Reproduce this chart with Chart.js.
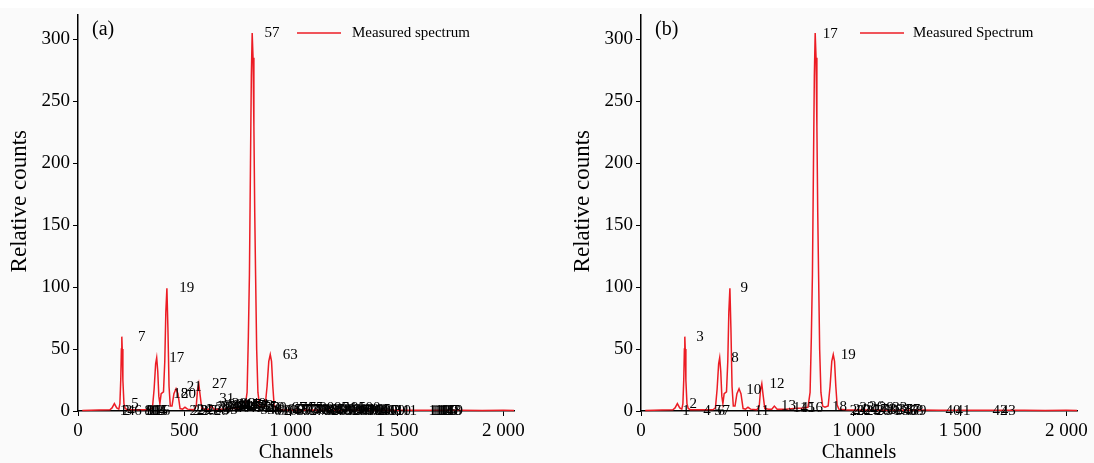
<!DOCTYPE html>
<html>
<head>
<meta charset="utf-8">
<script src="https://cdn.jsdelivr.net/npm/chart.js@4.4.1/dist/chart.umd.min.js"></script>
<style>
    body { margin: 0; background: #fff; }
    .wrap { position: relative; width: 1094px; height: 463px; }
    .bg { position: absolute; left: 0; top: 8px; width: 1094px; height: 455px; background: #fafafa; }
    canvas { position: absolute; top: 0; }
    #chartA { left: 0; }
    #chartB { left: 563px; }
</style>
</head>
<body>
<div class="wrap">
    <div class="bg"></div>
    <canvas id="chartA" width="563" height="463"></canvas>
    <canvas id="chartB" width="531" height="463"></canvas>
</div>
<script>
// Measured spectrum (same in both panels)
const channels = [20, 100, 150, 160, 171, 182, 192, 197, 201, 204, 206, 208, 211, 216, 222, 232, 260, 300, 340, 350, 358, 365, 370, 375, 380, 385, 391, 402, 408, 413, 418, 423, 428, 434, 442, 451, 461, 470, 480, 492, 503, 515, 545, 556, 562, 568, 574, 582, 600, 615, 627, 640, 680, 720, 760, 785, 795, 801, 806, 811, 815, 819, 823, 827, 831, 835, 840, 846, 854, 865, 880, 889, 897, 904, 910, 916, 922, 930, 960, 1000, 1100, 1200, 1300, 1400, 1500, 1600, 1700, 1800, 1900, 2000, 2050]
const counts = [0.5, 0.8, 1, 2.5, 6, 2.5, 1.5, 6, 25, 50, 60, 50, 25, 6, 2, 1, 1, 1, 1.2, 2.5, 18, 38, 43, 32, 12, 6, 14, 15.5, 40, 80, 99, 65, 20, 4, 4, 14, 18, 14, 2, 1.5, 3, 1.5, 1, 4, 17, 22, 13, 2, 1.5, 1.5, 4, 1.5, 1.5, 2, 2.5, 3, 15, 60, 110, 200, 270, 305, 285, 230, 160, 110, 50, 15, 4, 3, 4, 20, 40, 45.5, 40, 20, 5, 1.5, 1, 0.8, 0.8, 0.7, 0.8, 0.7, 0.6, 0.7, 0.6, 0.6, 0.5, 0.6, 0.5]

const xTickValues = [0, 500, 1000, 1500, 2000]
const yTickValues = [0, 50, 100, 150, 200, 250, 300]

// Panel (a) peak labels: number, channel, counts
const labelsA = ['1', '2', '3', '4', '5', '6', '7', '8', '9', '10', '11', '12', '13', '14', '15', '16', '17', '18', '19', '20', '21', '22', '23', '24', '25', '26', '27',
    '28', '29', '30', '31', '32', '33', '34', '35', '36', '37', '38', '39', '40', '41', '42', '43', '44', '45', '46', '47', '48', '49', '50', '51', '52', '53', '54', '55', '56',
    '57', '58', '59', '60', '61', '62', '63',
    '64', '65', '66', '67', '68', '69', '70', '71', '72', '73', '74', '75', '76', '77', '78', '79', '80', '81', '82', '83', '84',
    '85', '86', '87', '88', '89', '90', '91', '92', '93', '94', '95', '96', '97', '98', '99', '100', '101', '102', '103', '104', '105',
    '106', '107', '108', '109', '110', '111',
    '112', '113', '114', '115', '116', '117', '118', '119']
const peakChA = [120, 132, 143, 155, 174, 188, 206, 236, 246, 254, 262, 270, 278, 286, 294, 304, 370, 389, 417, 425, 452, 466, 480, 500, 520, 545, 571,
    580, 588, 597, 605, 614, 622, 630, 639, 647, 656, 664, 672, 681, 689, 698, 706, 714, 723, 731, 740, 748, 756, 765, 773, 782, 790, 798, 807, 815,
    818, 830, 842, 852, 862, 876, 904,
    915, 925, 935, 945, 955, 965, 975, 985, 995, 1005, 1015, 1025, 1035, 1045, 1055, 1065, 1075, 1085, 1095, 1105, 1115,
    1125, 1135, 1145, 1155, 1165, 1175, 1185, 1195, 1205, 1215, 1225, 1235, 1245, 1255, 1265, 1275, 1285, 1295, 1305, 1315, 1325,
    1345, 1360, 1375, 1390, 1420, 1450,
    1605, 1613, 1622, 1631, 1640, 1649, 1657, 1665]
const peakValA = [0, 0, 0, 0, 6, 0, 60, 0, 0, 0, 0, 0, 0, 0, 0, 0, 43, 14, 99, 14, 19, 0, 0, 1, 0, 1, 22,
    0, 2, 3, 10, 3, 1, 4, 2, 5, 3, 6, 4, 2, 5, 3, 6, 4, 5, 3, 2, 4, 6, 3, 5, 2, 4, 1, 3, 2,
    305, 1, 2, 2, 0, 0, 45,
    0, 1, 0, 2, 1, 0, 1, 2, 0, 1, 0, 2, 1, 0, 1, 0, 2, 1, 0, 1, 0,
    1, 0, 2, 1, 0, 1, 2, 0, 1, 0, 2, 1, 0, 1, 0, 2, 1, 0, 1, 0, 1,
    0, 0, 0, 0, 0, 0,
    0, 0, 0, 0, 0, 0, 0, 0]

// Panel (b) peak labels
const labelsB = ['1', '2', '3', '4', '5', '6', '7', '8', '9', '10', '11', '12', '13', '14', '15', '16', '17', '18', '19',
    '20', '21', '22', '23', '24', '25', '26', '27', '28', '29', '30', '31', '32', '33', '34', '35', '36', '37', '38', '39',
    '40', '41', '42', '43']
const peakChB = [141, 175, 207, 240, 292, 307, 330, 372, 415, 460, 498, 569, 623, 679, 712, 750, 819, 863, 904,
    946, 961, 977, 992, 1008, 1023, 1038, 1054, 1069, 1084, 1100, 1115, 1130, 1146, 1161, 1176, 1192, 1207, 1222, 1237,
    1396, 1443, 1618, 1656]
const peakValB = [0, 6, 60, 0, 0, 0, 0, 43, 99, 17, 0, 22, 4, 2, 2, 2, 304, 3, 45,
    0, 1, 0, 2, 1, 0, 3, 1, 0, 2, 1, 0, 1, 2, 0, 1, 0, 1, 0, 0,
    0, 0, 0, 0]

const serif = '"Liberation Serif", "Times New Roman", serif'
const red = '#ec1c24'

function spaced(v) {
    return String(v).replace(/\B(?=(\d{3})+(?!\d))/g, ' ')
}

// Peak numbers, legend and panel tag
const peakLabels = {
    id: 'peakLabels',
    afterDatasetsDraw(chart, args, opts) {
        const ctx = chart.ctx
        const x = chart.scales.x
        const y = chart.scales.y
        ctx.save()
        ctx.fillStyle = '#000'
        ctx.textAlign = 'center'
        ctx.textBaseline = 'middle'
        ctx.font = '15px ' + serif
        opts.labels.forEach(function (lab, i) {
            ctx.fillText(lab, x.getPixelForValue(opts.channels[i]) + opts.offset, y.getPixelForValue(opts.values[i]))
        })

        // legend
        ctx.strokeStyle = red
        ctx.lineWidth = 1.5
        ctx.beginPath()
        ctx.moveTo(297, 33)
        ctx.lineTo(341, 33)
        ctx.stroke()
        ctx.textAlign = 'left'
        ctx.fillText(opts.legend, opts.legendX, 33)

        // tag
        ctx.font = '20px ' + serif
        ctx.fillText(opts.tag, 92, 30)
        ctx.restore()
    }
}

function makeChart(id, labels, chs, vals, tag, legend, legendX, offset, rightPad) {
    const points = channels.map(function (c, i) { return { x: c, y: counts[i] } })
    return new Chart(document.getElementById(id), {
        type: 'line',
        data: {
            datasets: [{
                label: legend,
                data: points,
                borderColor: red,
                borderWidth: 1.5,
                pointRadius: 0,
                tension: 0,
                clip: false
            }]
        },
        options: {
            responsive: false,
            animation: false,
            layout: { padding: { top: 10, right: rightPad, left: 0, bottom: 0 } },
            plugins: {
                legend: { display: false },
                tooltip: { enabled: false },
                peakLabels: { labels: labels, channels: chs, values: vals, tag: tag, legend: legend, legendX: legendX, offset: offset }
            },
            scales: {
                x: {
                    type: 'linear',
                    min: 0,
                    max: 2050,
                    afterFit: function (s) { s.height = 52 },
                    afterBuildTicks: function (s) { s.ticks = xTickValues.map(function (v) { return { value: v } }) },
                    border: { display: true, color: '#000', width: 1.5 },
                    grid: { display: true, drawOnChartArea: false, tickLength: 5, color: '#000', tickWidth: 1 },
                    ticks: {
                        maxRotation: 0,
                        autoSkip: false,
                        padding: 4,
                        color: '#000',
                        font: { family: serif, size: 19 },
                        callback: function (v) { return spaced(v) }
                    },
                    title: {
                        display: true,
                        text: 'Channels',
                        color: '#000',
                        font: { family: serif, size: 20, lineHeight: 1 },
                        padding: 0
                    }
                },
                y: {
                    min: 0,
                    max: 320,
                    afterFit: function (s) { s.width = 78 },
                    afterBuildTicks: function (s) { s.ticks = yTickValues.map(function (v) { return { value: v } }) },
                    border: { display: true, color: '#000', width: 1.5 },
                    grid: { display: true, drawOnChartArea: false, tickLength: 5, color: '#000', tickWidth: 1 },
                    ticks: {
                        autoSkip: false,
                        padding: 3,
                        color: '#000',
                        font: { family: serif, size: 19 }
                    },
                    title: {
                        display: true,
                        // leading spaces lift the rotated title a little
                        text: '    Relative counts',
                        color: '#000',
                        font: { family: serif, size: 23, lineHeight: 1 },
                        padding: { top: 8, bottom: 0 }
                    }
                }
            }
        },
        plugins: [peakLabels]
    })
}

makeChart('chartA', labelsA, peakChA, peakValA, '(a)', 'Measured spectrum', 352, 20, 49)
makeChart('chartB', labelsB, peakChB, peakValB, '(b)', 'Measured Spectrum', 350, 15, 17)
</script>
</body>
</html>
